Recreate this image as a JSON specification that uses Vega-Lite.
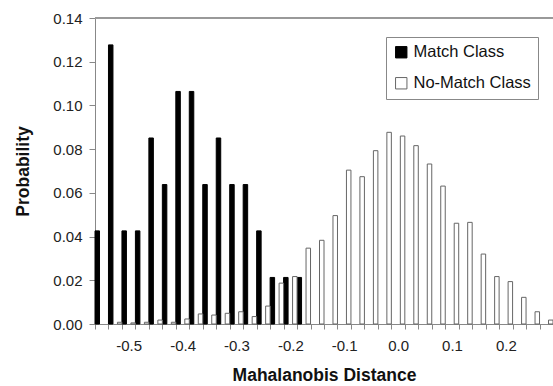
{
  "$schema": "https://vega.github.io/schema/vega-lite/v6.json",
  "width": 458,
  "height": 306,
  "autosize": {"type": "none"},
  "padding": {"left": 95, "top": 18, "right": 0, "bottom": 62},
  "background": "white",
  "config": {"view": {"stroke": null}, "font": "Liberation Sans"},
  "data": {"values": [
    {"d": -0.55, "cls": "Match Class", "p": 0.0426},
    {"d": -0.525, "cls": "Match Class", "p": 0.1277},
    {"d": -0.5, "cls": "Match Class", "p": 0.0426},
    {"d": -0.475, "cls": "Match Class", "p": 0.0426},
    {"d": -0.45, "cls": "Match Class", "p": 0.0851},
    {"d": -0.425, "cls": "Match Class", "p": 0.0638},
    {"d": -0.4, "cls": "Match Class", "p": 0.1064},
    {"d": -0.375, "cls": "Match Class", "p": 0.1064},
    {"d": -0.35, "cls": "Match Class", "p": 0.0638},
    {"d": -0.325, "cls": "Match Class", "p": 0.0851},
    {"d": -0.3, "cls": "Match Class", "p": 0.0638},
    {"d": -0.275, "cls": "Match Class", "p": 0.0638},
    {"d": -0.25, "cls": "Match Class", "p": 0.0426},
    {"d": -0.225, "cls": "Match Class", "p": 0.0213},
    {"d": -0.2, "cls": "Match Class", "p": 0.0213},
    {"d": -0.175, "cls": "Match Class", "p": 0.0213},
    {"d": -0.525, "cls": "No-Match Class", "p": 0.0008},
    {"d": -0.5, "cls": "No-Match Class", "p": 0.0005},
    {"d": -0.475, "cls": "No-Match Class", "p": 0.0008},
    {"d": -0.45, "cls": "No-Match Class", "p": 0.0018},
    {"d": -0.425, "cls": "No-Match Class", "p": 0.0008},
    {"d": -0.4, "cls": "No-Match Class", "p": 0.0023},
    {"d": -0.375, "cls": "No-Match Class", "p": 0.0046},
    {"d": -0.35, "cls": "No-Match Class", "p": 0.0041},
    {"d": -0.325, "cls": "No-Match Class", "p": 0.0049},
    {"d": -0.3, "cls": "No-Match Class", "p": 0.0056},
    {"d": -0.275, "cls": "No-Match Class", "p": 0.0034},
    {"d": -0.25, "cls": "No-Match Class", "p": 0.0082},
    {"d": -0.225, "cls": "No-Match Class", "p": 0.0187},
    {"d": -0.2, "cls": "No-Match Class", "p": 0.0217},
    {"d": -0.175, "cls": "No-Match Class", "p": 0.0347},
    {"d": -0.15, "cls": "No-Match Class", "p": 0.0383},
    {"d": -0.125, "cls": "No-Match Class", "p": 0.0496},
    {"d": -0.1, "cls": "No-Match Class", "p": 0.0704},
    {"d": -0.075, "cls": "No-Match Class", "p": 0.0674},
    {"d": -0.05, "cls": "No-Match Class", "p": 0.0793},
    {"d": -0.025, "cls": "No-Match Class", "p": 0.0877},
    {"d": 0.0, "cls": "No-Match Class", "p": 0.086},
    {"d": 0.025, "cls": "No-Match Class", "p": 0.0816},
    {"d": 0.05, "cls": "No-Match Class", "p": 0.0732},
    {"d": 0.075, "cls": "No-Match Class", "p": 0.0631},
    {"d": 0.1, "cls": "No-Match Class", "p": 0.0461},
    {"d": 0.125, "cls": "No-Match Class", "p": 0.0465},
    {"d": 0.15, "cls": "No-Match Class", "p": 0.032},
    {"d": 0.175, "cls": "No-Match Class", "p": 0.0217},
    {"d": 0.2, "cls": "No-Match Class", "p": 0.0194},
    {"d": 0.225, "cls": "No-Match Class", "p": 0.0122},
    {"d": 0.25, "cls": "No-Match Class", "p": 0.0056},
    {"d": 0.275, "cls": "No-Match Class", "p": 0.0018}
  ]},
  "layer": [
    {
      "mark": {"type": "rule", "color": "#999999", "strokeWidth": 1},
      "encoding": {"y": {"datum": 0.14, "type": "quantitative"}}
    },
    {
      "mark": {"type": "bar", "strokeWidth": 1},
      "encoding": {
        "x": {
          "field": "d", "type": "ordinal",
          "scale": {"paddingInner": 0, "paddingOuter": 0},
          "axis": {
            "title": "Mahalanobis Distance",
            "tickBand": "extent",
            "labelExpr": "abs(datum.value*10 - round(datum.value*10)) < 0.01 ? (datum.value < -0.001 ? '-' : '') + format(abs(datum.value), '.1f') : ''",
            "labelAngle": 0,
            "labelFontSize": 15,
            "labelColor": "#222222",
            "labelOverlap": false,
            "labelFlush": false,
            "labelPadding": 9,
            "tickSize": 5,
            "tickColor": "#888888",
            "domainColor": "#888888",
            "titleFontSize": 17.5,
            "titleFontWeight": "bold",
            "titleColor": "#111111",
            "titlePadding": 13,
            "grid": false
          }
        },
        "xOffset": {
          "field": "cls", "type": "nominal",
          "scale": {"domain": ["Match Class", "No-Match Class"], "paddingInner": 0.5, "paddingOuter": 0}
        },
        "y": {
          "field": "p", "type": "quantitative",
          "scale": {"domain": [0, 0.14], "nice": false},
          "axis": {
            "title": "Probability",
            "values": [0, 0.02, 0.04, 0.06, 0.08, 0.1, 0.12, 0.14],
            "format": ".2f",
            "labelFontSize": 15,
            "labelColor": "#222222",
            "labelPadding": 7,
            "tickSize": 6,
            "tickColor": "#888888",
            "domainColor": "#888888",
            "titleFontSize": 17.5,
            "titleFontWeight": "bold",
            "titleColor": "#111111",
            "titlePadding": 20,
            "grid": false
          }
        },
        "fill": {
          "field": "cls", "type": "nominal",
          "scale": {"domain": ["Match Class", "No-Match Class"], "range": ["#000000", "#ffffff"]},
          "legend": {
            "title": null,
            "orient": "none",
            "legendX": 291,
            "legendY": 19,
            "direction": "vertical",
            "strokeColor": "#888888",
            "padding": 7,
            "rowPadding": 14,
            "symbolType": "square",
            "symbolSize": 130,
            "symbolStrokeWidth": 1,
            "labelFontSize": 16.5,
            "labelColor": "#111111",
            "labelOffset": 4
          }
        },
        "stroke": {
          "field": "cls", "type": "nominal",
          "scale": {"domain": ["Match Class", "No-Match Class"], "range": ["#000000", "#666666"]},
          "legend": {
            "title": null,
            "orient": "none",
            "legendX": 291,
            "legendY": 19,
            "direction": "vertical",
            "strokeColor": "#888888",
            "padding": 7,
            "rowPadding": 14,
            "symbolType": "square",
            "symbolSize": 130,
            "symbolStrokeWidth": 1,
            "labelFontSize": 16.5,
            "labelColor": "#111111",
            "labelOffset": 4
          }
        }
      }
    }
  ]
}
